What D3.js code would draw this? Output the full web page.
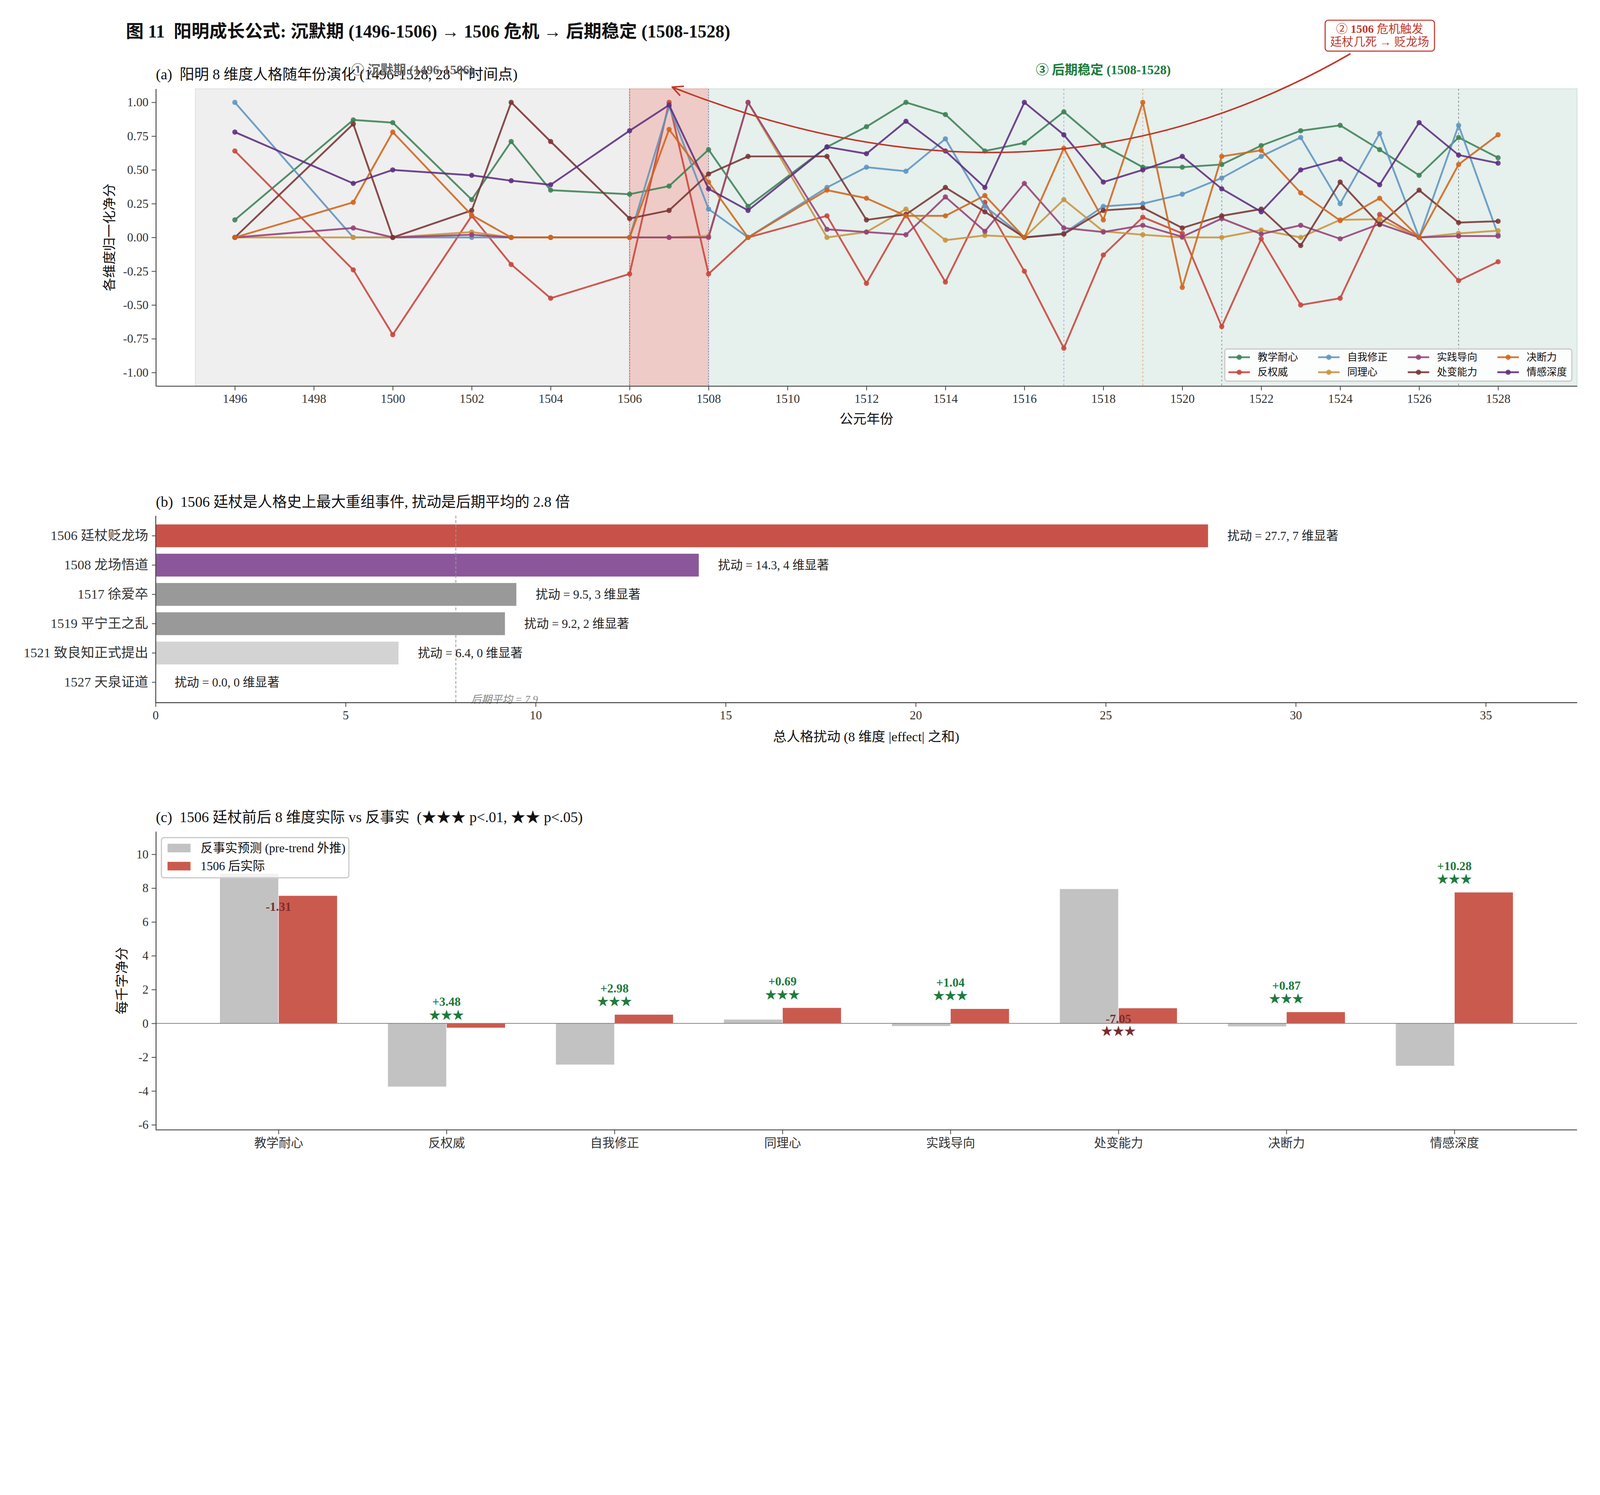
<!DOCTYPE html>
<html>
<head>
<meta charset="utf-8">
<script src="https://cdn.jsdelivr.net/npm/d3@7"></script>
<style>
  html, body { margin: 0; padding: 0; background: #fff; }
  svg { display: block; width: 100vw; height: auto; }
  text { white-space: pre; }
</style>
</head>
<body>
<script>
// ---- data ----
var years = [1496,1499,1500,1502,1503,1504,1506,1507,1508,1509,1511,1512,1513,1514,
             1515,1516,1517,1518,1519,1520,1521,1522,1523,1524,1525,1526,1527,1528];

var dims = ["教学耐心","反权威","自我修正","同理心","实践导向","处变能力","决断力","情感深度"];

var teach    = [0.13,0.87,0.85,0.28,0.71,0.35,0.32,0.38,0.65,0.23,0.67,0.82,1.00,0.91,0.64,0.70,0.93,0.68,0.52,0.52,0.54,0.68,0.79,0.83,0.65,0.46,0.74,0.59];
var antiAuth = [0.64,-0.24,-0.72,0.16,-0.20,-0.45,-0.27,1.00,-0.27,0.00,0.16,-0.34,0.17,-0.33,0.26,-0.25,-0.82,-0.13,0.15,0.03,-0.66,-0.01,-0.50,-0.45,0.17,0.00,-0.32,-0.18];
var selfCorr = [1.00,0.00,0.00,0.00,0.00,0.00,0.00,0.97,0.21,0.00,0.37,0.52,0.49,0.73,0.23,0.00,0.03,0.23,0.25,0.32,0.44,0.60,0.74,0.25,0.77,0.00,0.83,0.02];
var empathy  = [0.00,0.00,0.00,0.04,0.00,0.00,0.00,0.00,0.01,1.00,0.00,0.04,0.21,-0.02,0.015,0.00,0.28,0.045,0.02,0.00,0.00,0.055,0.00,0.13,0.135,0.00,0.03,0.05];
var practice = [0.00,0.07,0.00,0.02,0.00,0.00,0.00,0.00,0.00,1.00,0.06,0.04,0.02,0.30,0.045,0.40,0.07,0.04,0.09,0.005,0.14,0.025,0.09,-0.01,0.10,0.00,0.01,0.01];
var crisis   = [0.00,0.84,0.00,0.20,1.00,0.71,0.14,0.20,0.47,0.60,0.60,0.13,0.17,0.37,0.19,0.00,0.025,0.20,0.22,0.07,0.16,0.21,-0.06,0.41,0.095,0.35,0.11,0.12];
var decisive = [0.00,0.26,0.78,0.165,0.00,0.00,0.00,0.80,0.41,0.00,0.35,0.29,0.16,0.16,0.31,0.00,0.66,0.13,1.00,-0.37,0.60,0.645,0.33,0.125,0.29,0.00,0.54,0.76];
var emotion  = [0.78,0.40,0.50,0.46,0.42,0.39,0.79,0.98,0.36,0.20,0.67,0.62,0.86,0.64,0.37,1.00,0.76,0.41,0.50,0.60,0.36,0.19,0.50,0.58,0.39,0.85,0.61,0.55];

var phases = [[1495,1506],[1506,1508],[1508,1530]];
var eventYears = [1517,1519,1521,1527];

var events  = ["1506 廷杖贬龙场","1508 龙场悟道","1517 徐爱卒","1519 平宁王之乱","1521 致良知正式提出","1527 天泉证道"];
var disturb = [27.7,14.3,9.5,9.2,6.4,0.0];
var sigDims = [7,4,3,2,0,0];
var lateMean = 7.9;

var counterfactual = [8.87,-3.75,-2.45,0.24,-0.17,7.96,-0.19,-2.52];
var actual         = [7.56,-0.27,0.53,0.93,0.87,0.91,0.68,7.76];
var stars          = ["","★★★","★★★","★★★","★★★","★★★","★★★","★★★"];

// ---- style ----
var FONT = "'Liberation Serif','Noto Sans CJK SC',serif";
var lineColors = ["#3d8256","#c8463c","#5f94c2","#c8943f","#954176","#7a3535","#d0661c","#5e2f80"];
var phaseFill = ["#efefef","#eecbc6","#e6f0ed"];
var phaseEdge = ["#e2e2e2","#e3b7b1","#d3e4df"];
var eventColors = ["#8fb3cf","#e0a676","#7f9c92","#8a8a8a"];
var barColors = ["#c8524a","#8b579a","#999999","#999999","#d3d3d3","#d3d3d3"];
var series = [teach, antiAuth, selfCorr, empathy, practice, crisis, decisive, emotion];

var svg = d3.select("body").append("svg")
    .attr("viewBox", "0 0 5224 3826")
    .attr("preserveAspectRatio", "xMinYMin meet")
    .style("font-family", FONT);

function label(g, x, y, s, size, o) {
    o = o || {};
    return g.append("text")
        .attr("x", x).attr("y", y)
        .attr("font-size", size)
        .attr("fill", o.fill || "#111")
        .attr("font-weight", o.weight || "normal")
        .attr("font-style", o.style || "normal")
        .attr("text-anchor", o.anchor || "start")
        .attr("dominant-baseline", "central")
        .text(s);
}

function styleAxis(g, size) {
    g.selectAll(".domain").attr("stroke", "#444").attr("stroke-width", 3);
    g.selectAll(".tick line").attr("stroke", "#444").attr("stroke-width", 2.5);
    g.selectAll(".tick text").attr("font-size", size).attr("fill", "#333").attr("font-family", FONT);
}

// title
svg.append("text").attr("x", 411).attr("y", 103)
    .attr("font-size", 58).attr("font-weight", "bold").attr("fill", "#111")
    .attr("dominant-baseline", "central")
    .text("图 11  阳明成长公式: 沉默期 (1496-1506) → 1506 危机 → 后期稳定 (1508-1528)");

// ================= panel (a) =================
var xA = d3.scaleLinear().domain([1494, 1530]).range([509, 5149]);
var yA = d3.scaleLinear().domain([-1.1, 1.1]).range([1260, 290]);
var gA = svg.append("g");

gA.selectAll("rect.phase").data(phases).enter().append("rect")
    .attr("class", "phase")
    .attr("x", function(d) { return xA(d[0]); })
    .attr("width", function(d) { return xA(d[1]) - xA(d[0]); })
    .attr("y", yA(1.1))
    .attr("height", yA(-1.1) - yA(1.1))
    .attr("fill", function(d, i) { return phaseFill[i]; })
    .attr("stroke", function(d, i) { return phaseEdge[i]; })
    .attr("stroke-width", 3);

// crisis band edges
[[1506, "#c0605a"], [1508, "#9a7aa5"]].forEach(function(e) {
    gA.append("line")
        .attr("x1", xA(e[0])).attr("x2", xA(e[0]))
        .attr("y1", yA(1.1)).attr("y2", yA(-1.1))
        .attr("stroke", e[1]).attr("stroke-width", 2.5)
        .attr("stroke-dasharray", "5,4");
});

gA.selectAll("line.event").data(eventYears).enter().append("line")
    .attr("class", "event")
    .attr("x1", function(d) { return xA(d); })
    .attr("x2", function(d) { return xA(d); })
    .attr("y1", yA(1.1)).attr("y2", yA(-1.1))
    .attr("stroke", function(d, i) { return eventColors[i]; })
    .attr("stroke-width", 2.5)
    .attr("stroke-dasharray", "6,7");

var line = d3.line()
    .x(function(d) { return xA(d[0]); })
    .y(function(d) { return yA(d[1]); });

series.forEach(function(vals, k) {
    var pts = years.map(function(y, i) { return [y, vals[i]]; });
    var g = gA.append("g");
    g.append("path").datum(pts)
        .attr("d", line)
        .attr("fill", "none")
        .attr("stroke", lineColors[k])
        .attr("stroke-opacity", 0.88)
        .attr("stroke-width", 6)
        .attr("stroke-linejoin", "round");
    g.selectAll("circle").data(pts).enter().append("circle")
        .attr("cx", function(d) { return xA(d[0]); })
        .attr("cy", function(d) { return yA(d[1]); })
        .attr("r", 8.5)
        .attr("fill", lineColors[k])
        .attr("fill-opacity", 0.88);
});

var axA = gA.append("g").attr("transform", "translate(0," + yA(-1.1) + ")")
    .call(d3.axisBottom(xA).tickValues(d3.range(1496, 1529, 2)).tickFormat(d3.format("d"))
        .tickSize(14).tickSizeOuter(0).tickPadding(12));
styleAxis(axA, 40);
var ayA = gA.append("g").attr("transform", "translate(" + xA(1494) + ",0)")
    .call(d3.axisLeft(yA).tickValues([-1, -0.75, -0.5, -0.25, 0, 0.25, 0.5, 0.75, 1])
        .tickFormat(function(d) { return d.toFixed(2); })
        .tickSize(14).tickSizeOuter(0).tickPadding(10));
styleAxis(ayA, 40);

label(gA, 509, 242, "(a)  阳明 8 维度人格随年份演化 (1496-1528, 28 个时间点)", 48);
label(gA, 2829, 1367, "公元年份", 44, {anchor: "middle"});
label(gA, 0, 0, "各维度归一化净分", 44, {anchor: "middle"})
    .attr("transform", "translate(357,775) rotate(-90)");

label(gA, xA(1500.5), 228, "① 沉默期 (1496-1506)", 42, {anchor: "middle", fill: "#666", weight: "bold"});
label(gA, xA(1518), 228, "③ 后期稳定 (1508-1528)", 42, {anchor: "middle", fill: "#1e7b3c", weight: "bold"});

// crisis annotation with curved arrow
var p0 = [xA(1524.26), yA(1.36)], pc = [xA(1516.4), yA(0.034)], p2 = [xA(1507.08), yA(1.113)];
gA.append("path")
    .attr("d", "M" + p0 + "Q" + pc + " " + p2)
    .attr("fill", "none").attr("stroke", "#c0392b").attr("stroke-width", 5);
var ang = Math.atan2(p2[1] - pc[1], p2[0] - pc[0]);
[0.45, -0.45].forEach(function(da) {
    gA.append("line")
        .attr("x1", p2[0]).attr("y1", p2[1])
        .attr("x2", p2[0] - 36 * Math.cos(ang + da))
        .attr("y2", p2[1] - 36 * Math.sin(ang + da))
        .attr("stroke", "#c0392b").attr("stroke-width", 5).attr("stroke-linecap", "round");
});
var boxG = gA.append("g");
var bx = xA(1525.0);
boxG.append("rect")
    .attr("x", bx - 178).attr("y", 66).attr("width", 357).attr("height", 101)
    .attr("rx", 10).attr("fill", "#fff").attr("stroke", "#c0392b").attr("stroke-width", 3.5);
var t1 = boxG.append("text").attr("x", bx).attr("y", 93).attr("text-anchor", "middle")
    .attr("dominant-baseline", "central").attr("font-size", 38).attr("fill", "#c0392b");
t1.append("tspan").text("② ");
t1.append("tspan").attr("font-weight", "bold").text("1506");
t1.append("tspan").text(" 危机触发");
boxG.append("text").attr("x", bx).attr("y", 136).attr("text-anchor", "middle")
    .attr("dominant-baseline", "central").attr("font-size", 38).attr("fill", "#c0392b")
    .text("廷杖几死 → 贬龙场");

// legend (a)
var legA = gA.append("g");
legA.append("rect").attr("x", 3999).attr("y", 1139).attr("width", 1133).attr("height", 105)
    .attr("rx", 8).attr("fill", "#fff").attr("fill-opacity", 0.85)
    .attr("stroke", "#cccccc").attr("stroke-width", 4);
dims.forEach(function(name, k) {
    var col = Math.floor(k / 2), row = k % 2;
    var hx = 4011 + col * 292.7, hy = 1166 + row * 49;
    legA.append("line").attr("x1", hx).attr("x2", hx + 70).attr("y1", hy).attr("y2", hy)
        .attr("stroke", lineColors[k]).attr("stroke-opacity", 0.88).attr("stroke-width", 6);
    legA.append("circle").attr("cx", hx + 35).attr("cy", hy).attr("r", 8.5)
        .attr("fill", lineColors[k]).attr("fill-opacity", 0.88);
    label(legA, hx + 95, hy, name, 33);
});

// ================= panel (b) =================
var xB = d3.scaleLinear().domain([0, 37.4]).range([508, 5149]);
var yB = d3.scaleBand().domain(events).range([1683, 2293]).paddingInner(0.2).paddingOuter(0.29);
var gB = svg.append("g");

label(gB, 509, 1638, "(b)  1506 廷杖是人格史上最大重组事件, 扰动是后期平均的 2.8 倍", 48);

gB.selectAll("rect.bar").data(events).enter().append("rect")
    .attr("class", "bar")
    .attr("x", xB(0))
    .attr("y", function(d) { return yB(d); })
    .attr("width", function(d, i) { return xB(disturb[i]) - xB(0); })
    .attr("height", yB.bandwidth())
    .attr("fill", function(d, i) { return barColors[i]; })
    .attr("stroke", "#fff").attr("stroke-width", 2);

gB.append("line")
    .attr("x1", xB(lateMean)).attr("x2", xB(lateMean))
    .attr("y1", 1683).attr("y2", 2293)
    .attr("stroke", "#999").attr("stroke-width", 2.5).attr("stroke-dasharray", "9,6");
gB.append("text").attr("x", xB(lateMean + 0.4)).attr("y", 2294)
    .attr("font-size", 34).attr("font-style", "italic").attr("fill", "#888")
    .text("后期平均 = " + lateMean.toFixed(1));

events.forEach(function(ev, i) {
    label(gB, xB(disturb[i] + 0.5), yB(ev) + yB.bandwidth() / 2,
        "扰动 = " + disturb[i].toFixed(1) + ", " + sigDims[i] + " 维显著", 40, {fill: "#222"});
});

var axB = gB.append("g").attr("transform", "translate(0,2293)")
    .call(d3.axisBottom(xB).tickValues(d3.range(0, 36, 5)).tickSize(14).tickSizeOuter(0).tickPadding(12));
styleAxis(axB, 40);
var ayB = gB.append("g").attr("transform", "translate(508,0)")
    .call(d3.axisLeft(yB).tickSize(12).tickSizeOuter(0).tickPadding(12));
styleAxis(ayB, 44);
label(gB, 2828, 2404, "总人格扰动 (8 维度 |effect| 之和)", 44, {anchor: "middle"});

// ================= panel (c) =================
var xC = d3.scalePoint().domain(dims).range([509, 5149]).padding(0.73);
var yC = d3.scaleLinear().domain([-6.3, 11.35]).range([3688, 2714]);
var bw = xC.step() * 0.35;
var gC = svg.append("g");

label(gC, 509, 2667, "(c)  1506 廷杖前后 8 维度实际 vs 反事实  (★★★ p<.01, ★★ p<.05)", 48);

gC.selectAll("rect.cf").data(dims).enter().append("rect")
    .attr("class", "cf")
    .attr("x", function(d) { return xC(d) - bw; })
    .attr("width", bw)
    .attr("y", function(d, i) { return yC(Math.max(0, counterfactual[i])); })
    .attr("height", function(d, i) { return Math.abs(yC(counterfactual[i]) - yC(0)); })
    .attr("fill", "#c2c2c2").attr("stroke", "#fff").attr("stroke-width", 1.5);
gC.selectAll("rect.act").data(dims).enter().append("rect")
    .attr("class", "act")
    .attr("x", function(d) { return xC(d); })
    .attr("width", bw)
    .attr("y", function(d, i) { return yC(Math.max(0, actual[i])); })
    .attr("height", function(d, i) { return Math.abs(yC(actual[i]) - yC(0)); })
    .attr("fill", "#cb5a4e").attr("stroke", "#fff").attr("stroke-width", 1.5);

gC.append("line").attr("x1", 509).attr("x2", 5149).attr("y1", yC(0)).attr("y2", yC(0))
    .attr("stroke", "#888").attr("stroke-width", 2.5);

dims.forEach(function(d, i) {
    var diff = actual[i] - counterfactual[i];
    var hi = Math.max(actual[i], counterfactual[i]);
    var lo = Math.min(actual[i], counterfactual[i]);
    var s = (diff >= 0 ? "+" : "-") + Math.abs(diff).toFixed(2);
    var col = diff >= 0 ? "#1e7b3c" : "#7b2d2d";
    var ty = diff >= 0 ? hi + 1.55 : lo - 0.65;
    var sy = diff >= 0 ? hi + 0.78 : lo - 1.37;
    label(gC, xC(d), yC(ty), s, 40, {anchor: "middle", fill: col, weight: "bold"});
    if (stars[i]) label(gC, xC(d), yC(sy), stars[i], 38, {anchor: "middle", fill: col});
});

var axC = gC.append("g").attr("transform", "translate(0,3688)")
    .call(d3.axisBottom(xC).tickSize(14).tickSizeOuter(0).tickPadding(14));
styleAxis(axC, 40);
axC.select(".domain").attr("d", "M509,0H5149");
var ayC = gC.append("g").attr("transform", "translate(509,0)")
    .call(d3.axisLeft(yC).tickValues(d3.range(-6, 11, 2)).tickFormat(function(d) { return String(d); })
        .tickSize(14).tickSizeOuter(0).tickPadding(10));
styleAxis(ayC, 40);
label(gC, 0, 0, "每千字净分", 44, {anchor: "middle"})
    .attr("transform", "translate(398,3201) rotate(-90)");

// legend (c)
var legC = gC.append("g");
legC.append("rect").attr("x", 527).attr("y", 2734).attr("width", 612).attr("height", 131)
    .attr("rx", 8).attr("fill", "#fff").attr("fill-opacity", 0.8)
    .attr("stroke", "#cccccc").attr("stroke-width", 4);
[["反事实预测 (pre-trend 外推)", "#c2c2c2"], ["1506 后实际", "#cb5a4e"]].forEach(function(e, r) {
    var ly = 2768 + r * 59;
    legC.append("rect").attr("x", 547).attr("y", ly - 14).attr("width", 75).attr("height", 28)
        .attr("fill", e[1]);
    label(legC, 655, ly, e[0], 40);
});
</script>
</body>
</html>
